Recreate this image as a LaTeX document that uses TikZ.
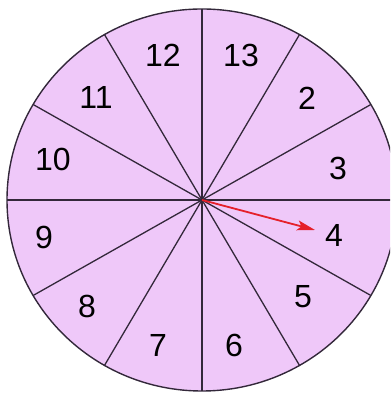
\documentclass[tikz,border=0pt]{standalone}
\usepackage{fontspec}
\setmainfont{Liberation Sans}
\usetikzlibrary{arrows.meta}
\definecolor{spinfill}{HTML}{EFC8F9}
\definecolor{spinline}{HTML}{33283A}
\definecolor{spinred}{HTML}{E5202A}
\tikzset{
  num/.style={font=\fontsize{16}{16}\selectfont, inner sep=1pt, text=black},
  spoke/.style={draw=spinline, line width=0.65pt},
  ptr/.style={-{Stealth[length=9pt,width=5pt,inset=2pt]}, draw=spinred, fill=spinred, line width=0.9pt},
}
\begin{document}
\begin{tikzpicture}[x=0.5pt,y=0.5pt]
\useasboundingbox (-202,-194) rectangle (188,200);
\clip (-202,-194) rectangle (188,200);

% wheel
\filldraw[fill=spinfill, draw=spinline, line width=0.7pt] (0,0) ellipse [x radius=195, y radius=191];
\coordinate (c) at (0,0);

% spokes
\draw[spoke] (0:195 and 191) -- (180:195 and 191);
\draw[spoke] (30:195 and 191) -- (210:195 and 191);
\draw[spoke] (60:195 and 191) -- (240:195 and 191);
\draw[spoke] (90:195 and 191) -- (270:195 and 191);
\draw[spoke] (120:195 and 191) -- (300:195 and 191);
\draw[spoke] (150:195 and 191) -- (330:195 and 191);

% numbers
\node[num] (n12) at (-39,145) {12};
\node[num] (n13) at (39,145) {13};
\node[num] (n2) at (105,102) {2};
\node[num] (n3) at (136,32) {3};
\node[num] (n4) at (132,-35) {4};
\node[num] (n5) at (101,-97) {5};
\node[num] (n6) at (32,-145) {6};
\node[num] (n7) at (-44,-145) {7};
\node[num] (n8) at (-115,-106) {8};
\node[num] (n9) at (-158,-37) {9};
\node[num] (n10) at (-149,41) {10};
\node[num] (n11) at (-106,102) {11};

% pointer
\coordinate (tip) at (113,-30);
\draw[ptr] (c) -- (tip);
\end{tikzpicture}
\end{document}
